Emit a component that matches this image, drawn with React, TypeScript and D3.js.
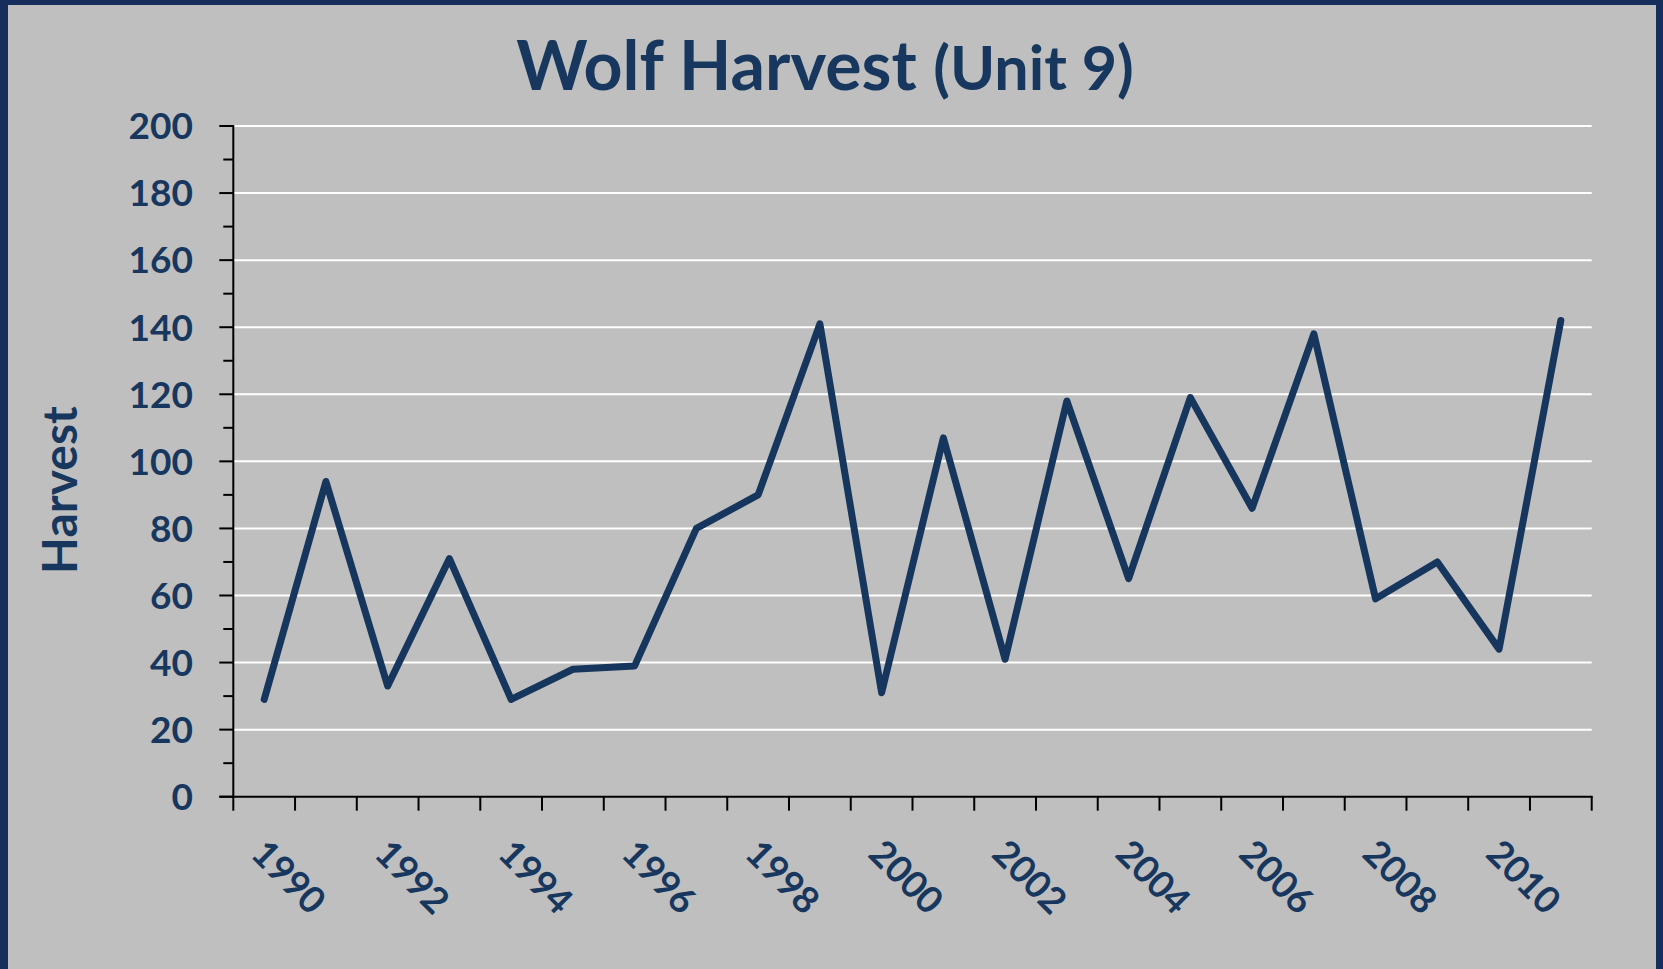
import React, { useEffect, useRef } from 'react';
import * as d3 from 'd3';

// harvest per year
const years = [
  1990, 1991, 1992, 1993, 1994, 1995, 1996, 1997, 1998, 1999, 2000,
  2001, 2002, 2003, 2004, 2005, 2006, 2007, 2008, 2009, 2010, 2011,
];
const harvest = [
  29, 94, 33, 71, 29, 38, 39, 80, 90, 141, 31,
  107, 41, 118, 65, 119, 86, 138, 59, 70, 44, 142,
];
const yMajorTicks = [0, 20, 40, 60, 80, 100, 120, 140, 160, 180, 200];
const yMinorTicks = [10, 30, 50, 70, 90, 110, 130, 150, 170, 190];
const xLabelYears = [1990, 1992, 1994, 1996, 1998, 2000, 2002, 2004, 2006, 2008, 2010];

const WolfHarvestChart = () => {
  const ref = useRef<SVGSVGElement>(null);

  useEffect(() => {
    const svg = d3.select(ref.current);
    svg.selectAll('*').remove();

    const width = 1663;
    const height = 969;
    const margin = { top: 126, right: 71.3, bottom: 172.3, left: 233.3 };
    const navy = '#17375e';
    const font = 'Lato, "Open Sans", sans-serif';

    // background + frame
    svg.append('rect').attr('width', width).attr('height', height).attr('fill', '#bfbfbf');
    svg.append('rect').attr('x', 0).attr('y', 0).attr('width', 8).attr('height', height).attr('fill', '#172e5c');
    svg.append('rect').attr('x', 0).attr('y', 0).attr('width', width).attr('height', 5).attr('fill', '#172e5c');
    svg.append('rect').attr('x', width - 7).attr('y', 0).attr('width', 7).attr('height', height).attr('fill', '#172e5c');

    const x = d3.scaleBand<number>()
      .domain(years)
      .range([margin.left, width - margin.right])
      .padding(0);

    const y = d3.scaleLinear()
      .domain([0, 200])
      .range([height - margin.bottom, margin.top]);

    const x0 = margin.left;
    const x1 = width - margin.right;
    const yBase = y(0);

    // gridlines
    svg.append('g')
      .selectAll('line')
      .data(yMajorTicks.filter(d => d > 0))
      .join('line')
      .attr('x1', x0)
      .attr('x2', x1)
      .attr('y1', d => y(d))
      .attr('y2', d => y(d))
      .attr('stroke', '#ffffff')
      .attr('stroke-width', 2);

    // y axis
    const yAxis = svg.append('g');
    yAxis.append('line')
      .attr('x1', x0).attr('x2', x0)
      .attr('y1', y(200) - 1).attr('y2', yBase)
      .attr('stroke', '#000').attr('stroke-width', 2);
    yAxis.selectAll('.major')
      .data(yMajorTicks)
      .join('line')
      .attr('class', 'major')
      .attr('x1', x0 - 14).attr('x2', x0)
      .attr('y1', d => y(d)).attr('y2', d => y(d))
      .attr('stroke', '#000').attr('stroke-width', 2);
    yAxis.selectAll('.minor')
      .data(yMinorTicks)
      .join('line')
      .attr('class', 'minor')
      .attr('x1', x0 - 10).attr('x2', x0)
      .attr('y1', d => y(d)).attr('y2', d => y(d))
      .attr('stroke', '#000').attr('stroke-width', 2);
    yAxis.selectAll('text')
      .data(yMajorTicks)
      .join('text')
      .attr('x', 193)
      .attr('y', d => y(d))
      .attr('dy', '0.36em')
      .attr('text-anchor', 'end')
      .attr('font-family', font)
      .attr('font-weight', 700)
      .attr('font-size', 37)
      .attr('fill', navy)
      .text(d => d);

    // x axis
    const xAxis = svg.append('g');
    xAxis.append('line')
      .attr('x1', x0 - 14).attr('x2', x1 + 1)
      .attr('y1', yBase).attr('y2', yBase)
      .attr('stroke', '#000').attr('stroke-width', 2);
    const bounds = years.map(d => x(d) as number).concat([x1]);
    xAxis.selectAll('.tick')
      .data(bounds)
      .join('line')
      .attr('class', 'tick')
      .attr('x1', d => d).attr('x2', d => d)
      .attr('y1', yBase).attr('y2', yBase + 14)
      .attr('stroke', '#000').attr('stroke-width', 2);
    xAxis.selectAll('text')
      .data(xLabelYears)
      .join('text')
      .attr('transform', d => `translate(${(x(d) as number) + x.bandwidth() / 2 + 4},837) rotate(45)`)
      .attr('dy', '0.72em')
      .attr('font-family', font)
      .attr('font-weight', 700)
      .attr('font-size', 37)
      .attr('fill', navy)
      .text(d => d);

    // axis title
    svg.append('text')
      .attr('transform', 'translate(77,490) rotate(-90)')
      .attr('text-anchor', 'middle')
      .attr('font-family', font)
      .attr('font-weight', 700)
      .attr('font-size', 48)
      .attr('fill', navy)
      .text('Harvest');

    // chart title
    const title = svg.append('text')
      .attr('x', 825)
      .attr('y', 90)
      .attr('text-anchor', 'middle')
      .attr('font-family', font)
      .attr('font-weight', 700)
      .attr('fill', navy);
    title.append('tspan').attr('font-size', 68).text('Wolf Harvest ');
    title.append('tspan').attr('font-size', 61).text('(Unit 9)');

    // series
    const line = d3.line<number>()
      .x((d, i) => (x(years[i]) as number) + x.bandwidth() / 2)
      .y(d => y(d));

    svg.append('path')
      .datum(harvest)
      .attr('fill', 'none')
      .attr('stroke', '#17365d')
      .attr('stroke-width', 7)
      .attr('stroke-linejoin', 'round')
      .attr('stroke-linecap', 'round')
      .attr('d', line);
  }, []);

  return (
    <svg
      ref={ref}
      width={1663}
      height={969}
      style={{ position: 'absolute', left: 0, top: 0, display: 'block' }}
    ></svg>
  );
};

export default function App() {
  return <WolfHarvestChart />;
}
